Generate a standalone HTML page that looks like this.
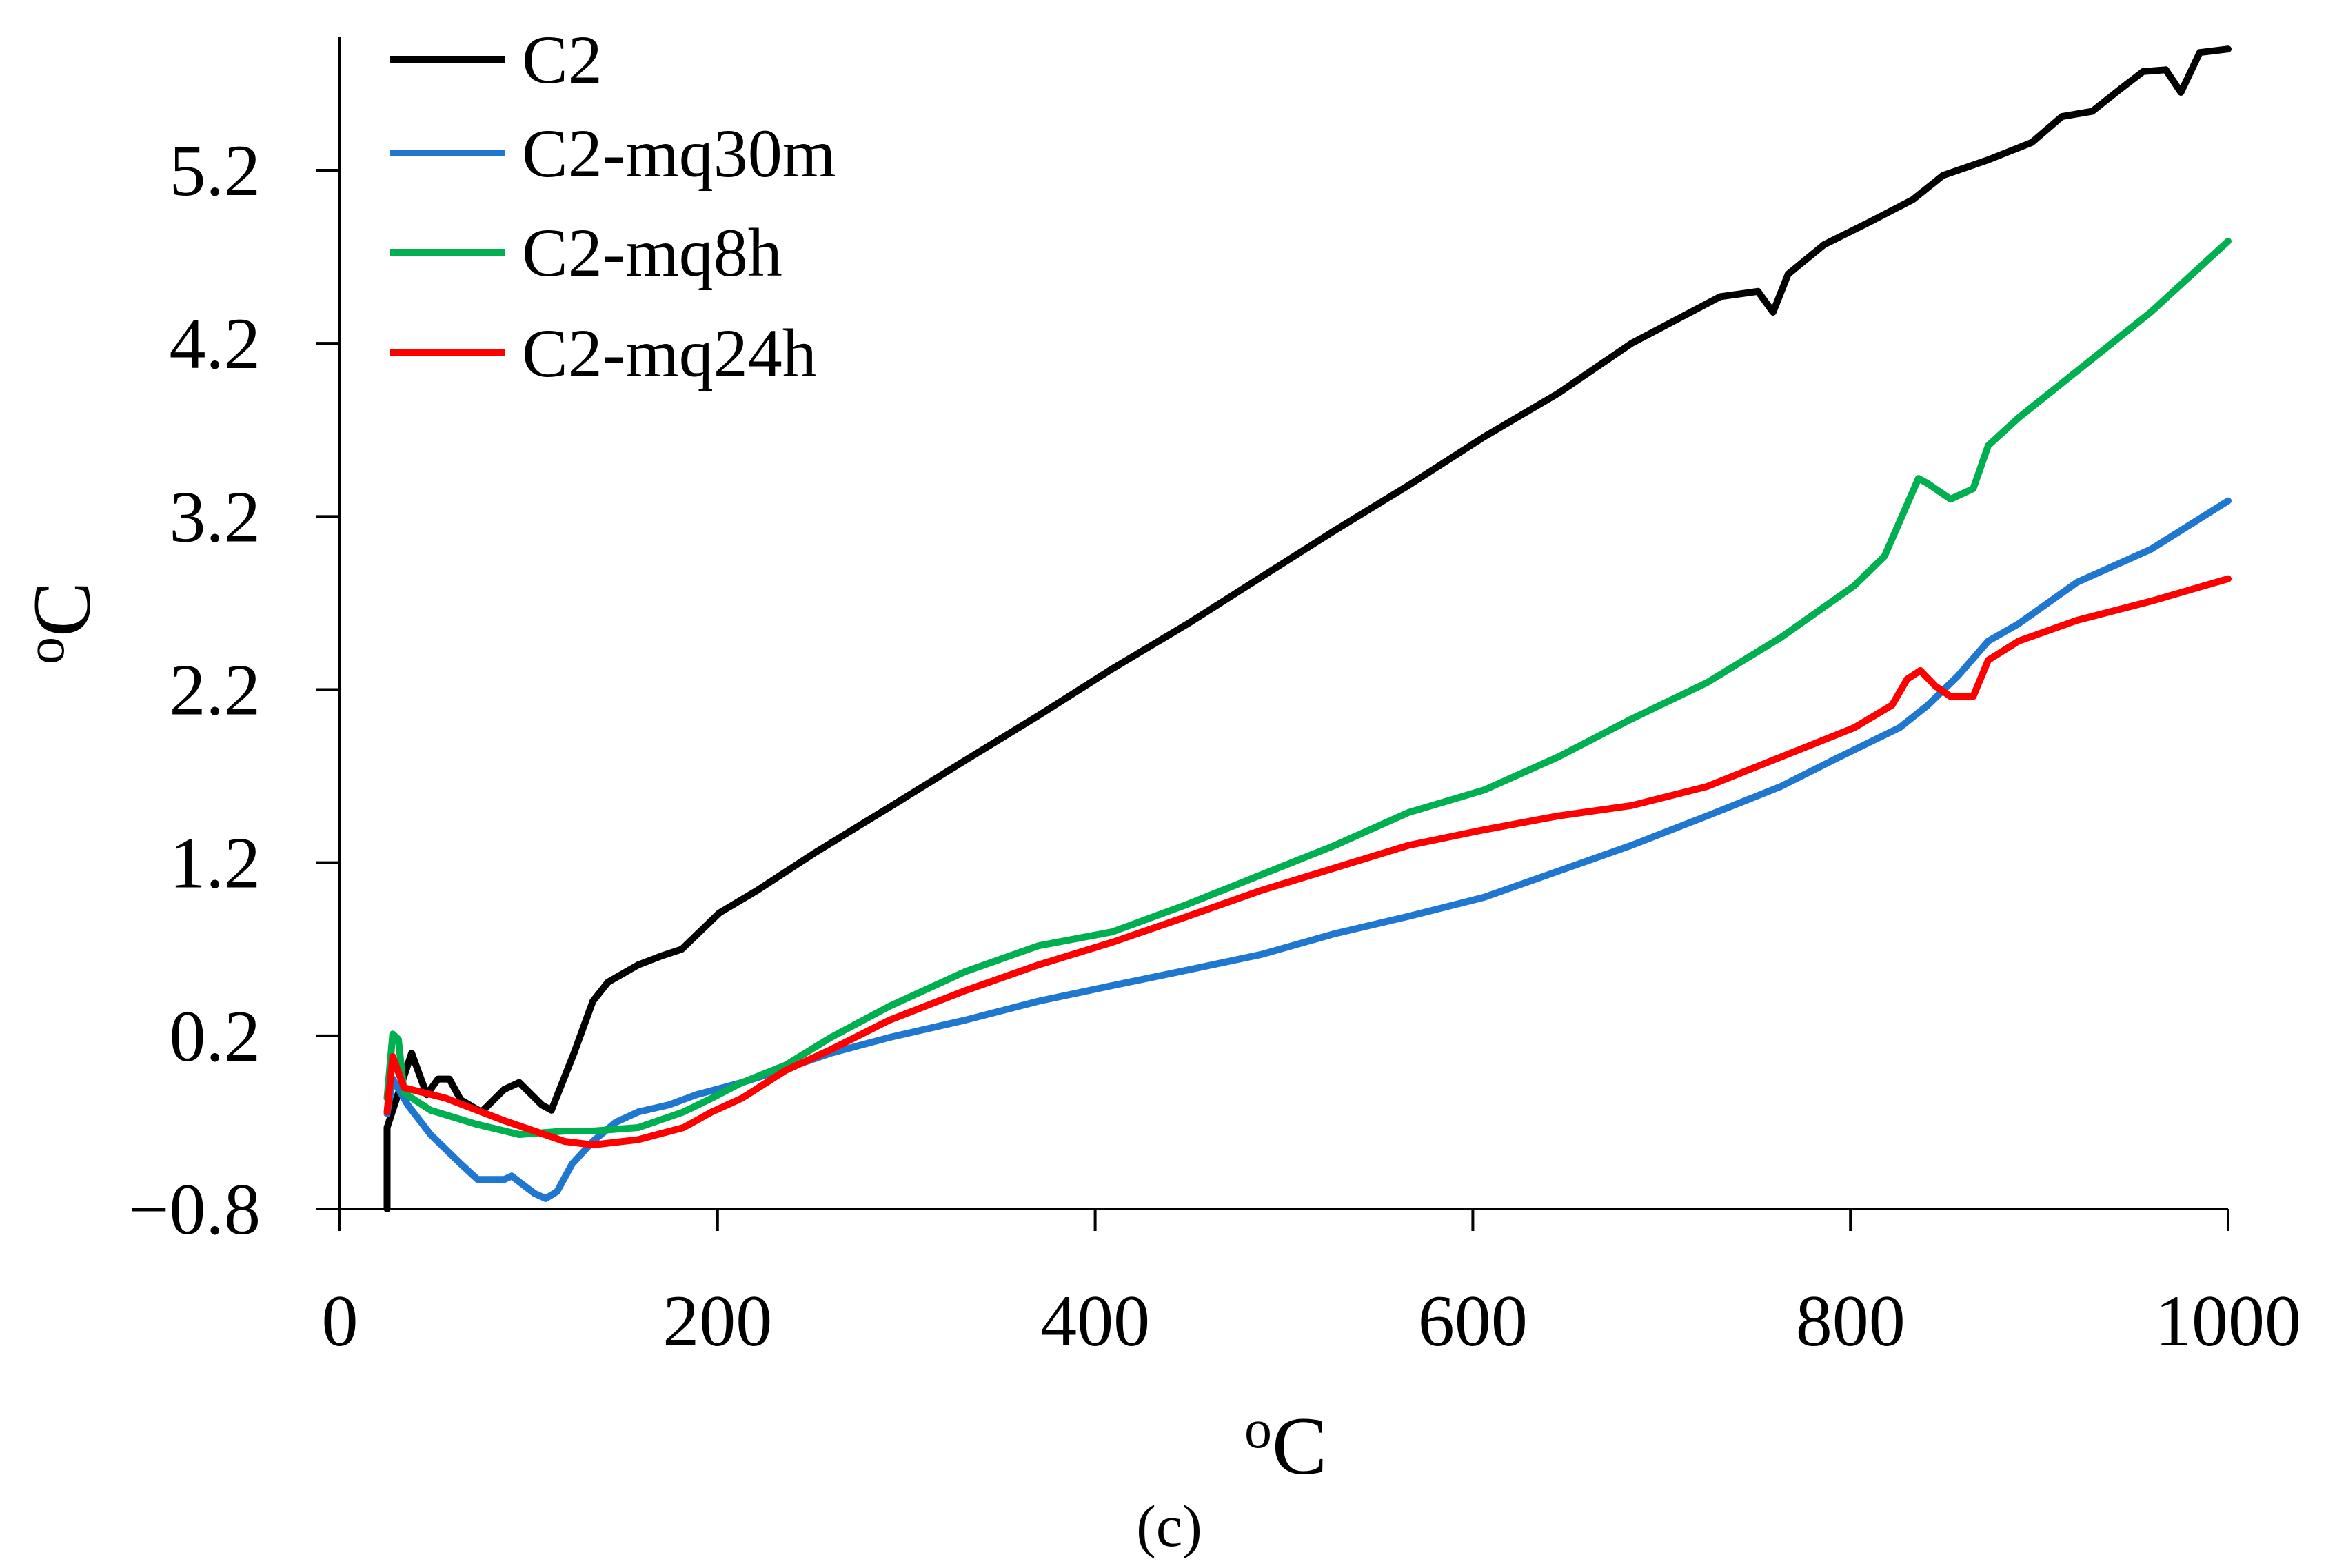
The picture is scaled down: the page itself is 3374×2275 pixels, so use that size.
<!DOCTYPE html>
<html><head><meta charset="utf-8"><style>
html,body{margin:0;padding:0;background:#fff;}
svg{display:block;font-family:"Liberation Serif",serif;}
</style></head><body>
<svg id="chart" width="3374" height="2275" viewBox="0 0 3374 2275" xmlns="http://www.w3.org/2000/svg">
<rect width="3374" height="2275" fill="#fff"/>
<g id="axes"></g>
<g id="series"></g>
<g id="legend"></g>
<text transform="translate(130,904) rotate(-90)" text-anchor="middle" font-size="120"><tspan font-size="80" dy="-38">o</tspan><tspan dy="38">C</tspan></text>
<text x="1865" y="2138" text-anchor="middle" font-size="120"><tspan font-size="80" dy="-38">o</tspan><tspan dy="38">C</tspan></text>
<text x="1696" y="2243" text-anchor="middle" font-size="86">(c)</text>
</svg>
<script>
const xTicks=[0,200,400,600,800,1000];
const yTicks=[-0.8,0.2,1.2,2.2,3.2,4.2,5.2];
const yTickLabels=["\u22120.8","0.2","1.2","2.2","3.2","4.2","5.2"];
const seriesNames=["C2","C2-mq30m","C2-mq8h","C2-mq24h"];
const c2T=[25,25,28,38,46,52,58,64,75,87,95,107,112,124,134,142,158,170,181,201,221,252,291,331,370,409,449,488,527,566,606,645,684,731,751,759,767,786,810,833,849,873,896,912,928,943,955,967,975,985,1000];
const c2V=[-0.8,-0.33,-0.23,0.10,-0.14,-0.05,-0.05,-0.17,-0.24,-0.11,-0.07,-0.20,-0.23,0.10,0.40,0.51,0.61,0.66,0.70,0.91,1.04,1.26,1.52,1.79,2.05,2.32,2.58,2.85,3.12,3.38,3.66,3.91,4.20,4.47,4.50,4.38,4.60,4.77,4.90,5.03,5.17,5.26,5.36,5.51,5.54,5.67,5.77,5.78,5.65,5.88,5.90];
const m30T=[25,28,36,48,64,73,87,91,103,109,115,123,134,146,158,174,189,213,236,260,291,331,370,409,449,488,527,566,606,645,684,724,763,794,826,841,857,873,889,920,959,1000];
const m30V=[-0.25,-0.05,-0.20,-0.37,-0.54,-0.63,-0.63,-0.61,-0.71,-0.74,-0.70,-0.54,-0.41,-0.30,-0.24,-0.20,-0.14,-0.07,0.01,0.10,0.19,0.29,0.40,0.49,0.58,0.67,0.79,0.89,1.00,1.15,1.30,1.47,1.64,1.81,1.98,2.11,2.28,2.48,2.58,2.82,3.01,3.29];
const m8T=[25,28,31,34,48,72,95,119,134,158,182,197,213,236,260,291,331,370,409,449,488,527,566,606,645,684,724,763,802,818,830,836,841,853,865,873,889,920,959,1000];
const m8V=[-0.16,0.21,0.18,-0.13,-0.23,-0.31,-0.37,-0.35,-0.35,-0.33,-0.24,-0.16,-0.07,0.03,0.19,0.37,0.57,0.72,0.80,0.96,1.13,1.30,1.49,1.62,1.81,2.03,2.24,2.50,2.80,2.97,3.27,3.42,3.39,3.30,3.36,3.61,3.77,4.04,4.38,4.79];
const m24T=[25,28,34,56,87,119,134,158,182,197,213,236,260,291,331,370,409,449,488,527,566,606,645,684,724,763,802,822,830,837,845,853,865,873,889,920,959,1000];
const m24V=[-0.24,0.08,-0.10,-0.16,-0.29,-0.41,-0.43,-0.40,-0.33,-0.24,-0.16,0.0,0.12,0.29,0.46,0.61,0.74,0.89,1.04,1.17,1.30,1.39,1.47,1.53,1.64,1.81,1.98,2.11,2.26,2.31,2.22,2.16,2.16,2.37,2.48,2.60,2.71,2.84];

const NS="http://www.w3.org/2000/svg";
const X0=493,X1=3232,YB=1754,YT=247;
function sx(v){return X0+(v-0)/(1000-0)*(X1-X0);}
function sy(v){return YB-(v-(-0.8))/(5.2-(-0.8))*(YB-YT);}
function mk(tag,attrs,parent){const e=document.createElementNS(NS,tag);for(const k in attrs)e.setAttribute(k,attrs[k]);parent.appendChild(e);return e;}
const axes=document.getElementById('axes');
let l=mk('line',{x1:X0,y1:54,x2:X0,y2:1786,stroke:'#000','stroke-width':4},axes);


l=mk('line',{x1:458,y1:YB,x2:X1,y2:YB,stroke:'#000','stroke-width':4},axes);


yTicks.forEach((v,i)=>{
  const t=mk('line',{x1:458,y1:sy(v),x2:X0,y2:sy(v),stroke:'#000','stroke-width':4},axes);
  
  
  const tx=mk('text',{x:378,y:sy(v)+36,'text-anchor':'end','font-size':106},axes);
  tx.textContent=yTickLabels[i];
  
  
});
xTicks.forEach(v=>{
  if(v>0){const t=mk('line',{x1:sx(v),y1:YB,x2:sx(v),y2:1786,stroke:'#000','stroke-width':4},axes);
  
  }
  const tx=mk('text',{x:sx(v),y:1952,'text-anchor':'middle','font-size':106},axes);
  tx.textContent=String(v);
  
  
});
const colors=["#000000","#1f77d0","#00b050","#ff0000"];
const allT=[c2T,m30T,m8T,m24T],allV=[c2V,m30V,m8V,m24V];
const sg=document.getElementById('series');
allT.forEach((T,i)=>{
  const d=T.map((t,j)=>(j?'L':'M')+sx(t).toFixed(1)+' '+sy(allV[i][j]).toFixed(1)).join(' ');
  const p=mk('path',{d:d,fill:'none',stroke:colors[i],'stroke-width':10,'stroke-linejoin':'round','stroke-linecap':'round'},sg);
  
  
});
const lg=document.getElementById('legend');
const ly=[86,222,366,512];
seriesNames.forEach((n,i)=>{
  const ln=mk('line',{x1:566,y1:ly[i],x2:732,y2:ly[i],stroke:colors[i],'stroke-width':10},lg);
  
  
  const tx=mk('text',{x:757,y:ly[i]+34,'font-size':100},lg);
  tx.textContent=n;
  
  
});
</script>
</body></html>
